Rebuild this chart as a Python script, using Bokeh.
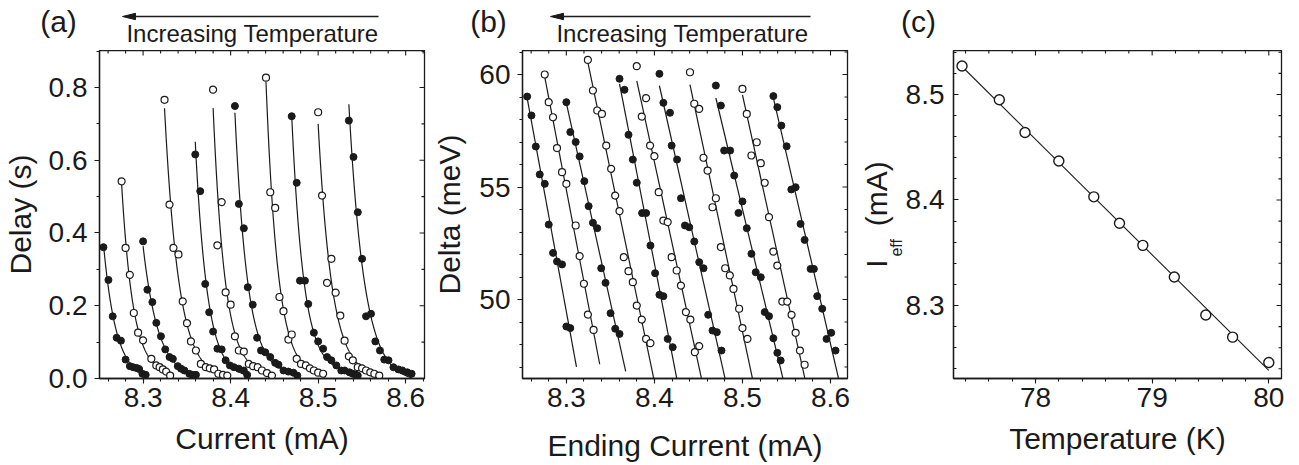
import numpy as np
from bokeh.plotting import figure
from bokeh.layouts import row, column
from bokeh.models import (Range1d, LinearAxis, SingleIntervalTicker, FixedTicker,
                          PrintfTickFormatter)
from bokeh.core.properties import value
from bokeh.embed import file_html
from bokeh.resources import INLINE

FONT = "Liberation Sans"
INK = "#1a1a1a"
NBSP = "\u00a0"

# ---------------- panel (a): delay vs current ----------------
a1_current = [8.2547, 8.2604, 8.2653, 8.2698, 8.2747, 8.2800, 8.2849, 8.2887, 8.2925, 8.2955, 8.2992, 8.3030]
a1_delay = [0.361, 0.271, 0.171, 0.112, 0.104, 0.052, 0.034, 0.031, 0.029, 0.026, 0.013, 0.010]
a2_current = [8.2755, 8.2800, 8.2849, 8.2894, 8.2943, 8.3000, 8.3094, 8.3151, 8.3189, 8.3226, 8.3264, 8.3309]
a2_delay = [0.542, 0.359, 0.285, 0.180, 0.126, 0.105, 0.054, 0.036, 0.031, 0.025, 0.019, 0.008]
a3_current = [8.3000, 8.3049, 8.3106, 8.3151, 8.3204, 8.3253, 8.3302, 8.3340, 8.3396, 8.3434, 8.3472, 8.3528, 8.3566, 8.3604]
a3_delay = [0.377, 0.244, 0.210, 0.153, 0.116, 0.080, 0.059, 0.054, 0.034, 0.027, 0.022, 0.013, 0.010, 0.010]
a4_current = [8.3245, 8.3302, 8.3347, 8.3404, 8.3453, 8.3502, 8.3547, 8.3604, 8.3660, 8.3717, 8.3762, 8.3811, 8.3860, 8.3913, 8.3962]
a4_delay = [0.766, 0.478, 0.359, 0.341, 0.212, 0.152, 0.102, 0.077, 0.040, 0.031, 0.028, 0.025, 0.013, 0.010, 0.008]
a5_current = [8.3596, 8.3653, 8.3710, 8.3755, 8.3800, 8.3849, 8.3898, 8.3943, 8.3992, 8.4038, 8.4094, 8.4151, 8.4189]
a5_delay = [0.616, 0.515, 0.260, 0.182, 0.129, 0.082, 0.080, 0.050, 0.036, 0.031, 0.027, 0.022, 0.010]
a6_current = [8.3800, 8.3849, 8.3898, 8.3943, 8.4000, 8.4049, 8.4094, 8.4151, 8.4208, 8.4257, 8.4309, 8.4358, 8.4415, 8.4472]
a6_delay = [0.794, 0.366, 0.485, 0.237, 0.203, 0.116, 0.077, 0.074, 0.040, 0.034, 0.031, 0.022, 0.015, 0.008]
a7_current = [8.4049, 8.4094, 8.4151, 8.4196, 8.4253, 8.4302, 8.4347, 8.4396, 8.4453, 8.4509, 8.4547, 8.4604, 8.4660, 8.4717, 8.4762]
a7_delay = [0.749, 0.480, 0.413, 0.251, 0.203, 0.112, 0.077, 0.072, 0.059, 0.043, 0.038, 0.022, 0.019, 0.016, 0.008]
a8_current = [8.4404, 8.4453, 8.4509, 8.4558, 8.4604, 8.4660, 8.4698, 8.4755, 8.4804, 8.4860, 8.4906, 8.4951, 8.5000, 8.5057]
a8_delay = [0.827, 0.512, 0.469, 0.224, 0.185, 0.107, 0.121, 0.054, 0.040, 0.036, 0.028, 0.022, 0.016, 0.013]
a9_current = [8.4698, 8.4755, 8.4792, 8.4849, 8.4887, 8.4951, 8.5000, 8.5057, 8.5102, 8.5151, 8.5208, 8.5264, 8.5302, 8.5358, 8.5396, 8.5434, 8.5453]
a9_delay = [0.721, 0.538, 0.269, 0.269, 0.205, 0.126, 0.102, 0.082, 0.059, 0.050, 0.036, 0.022, 0.022, 0.017, 0.013, 0.010, 0.008]
a10_current = [8.5000, 8.5045, 8.5102, 8.5151, 8.5200, 8.5253, 8.5302, 8.5351, 8.5396, 8.5453, 8.5502, 8.5547, 8.5596, 8.5642, 8.5698]
a10_delay = [0.732, 0.503, 0.263, 0.329, 0.236, 0.173, 0.104, 0.061, 0.050, 0.031, 0.028, 0.022, 0.017, 0.013, 0.008]
a11_current = [8.5351, 8.5404, 8.5453, 8.5502, 8.5547, 8.5604, 8.5653, 8.5706, 8.5755, 8.5804, 8.5860, 8.5917, 8.5962, 8.6019, 8.6068]
a11_delay = [0.709, 0.609, 0.457, 0.329, 0.171, 0.178, 0.102, 0.077, 0.052, 0.050, 0.031, 0.025, 0.022, 0.017, 0.013]

# ---------------- panel (b): delta vs ending current ----------------
b1_current = [8.2555, 8.2604, 8.2653, 8.2698, 8.2755, 8.2800, 8.2849, 8.2894, 8.2951, 8.3000, 8.3045]
b1_delta = [59.02, 58.18, 56.80, 55.56, 55.14, 53.33, 52.07, 51.69, 51.56, 48.80, 48.73]
b2_current = [8.2755, 8.2800, 8.2849, 8.2894, 8.2951, 8.3000, 8.3106, 8.3151, 8.3200, 8.3245, 8.3309]
b2_delta = [60.00, 58.77, 58.10, 56.73, 55.66, 55.14, 53.29, 51.93, 50.70, 49.33, 48.65]
b3_current = [8.3000, 8.3045, 8.3106, 8.3151, 8.3204, 8.3253, 8.3302, 8.3351, 8.3396, 8.3445, 8.3502, 8.3555, 8.3604]
b3_delta = [58.77, 57.44, 57.00, 56.36, 55.26, 54.15, 53.41, 53.17, 51.39, 50.74, 49.39, 48.70, 48.47]
b4_current = [8.3245, 8.3302, 8.3351, 8.3404, 8.3453, 8.3509, 8.3555, 8.3604, 8.3653, 8.3706, 8.3755, 8.3800, 8.3857, 8.3906, 8.3955]
b4_delta = [60.65, 59.29, 58.40, 58.25, 56.84, 55.81, 54.62, 53.93, 51.88, 51.26, 50.77, 49.73, 49.11, 48.25, 48.06]
b5_current = [8.3604, 8.3660, 8.3706, 8.3755, 8.3800, 8.3860, 8.3906, 8.3955, 8.4008, 8.4057, 8.4102, 8.4151, 8.4208]
b5_delta = [59.81, 59.32, 57.32, 56.22, 55.19, 53.84, 53.84, 52.40, 51.17, 50.21, 50.15, 48.25, 47.88]
b6_current = [8.3800, 8.3857, 8.3906, 8.3951, 8.4000, 8.4049, 8.4102, 8.4151, 8.4196, 8.4253, 8.4302, 8.4358, 8.4408, 8.4460, 8.4509]
b6_delta = [60.37, 58.13, 58.95, 56.84, 56.37, 54.77, 53.51, 53.44, 51.88, 51.29, 50.62, 49.44, 49.11, 47.66, 47.93]
b7_current = [8.4057, 8.4102, 8.4177, 8.4196, 8.4257, 8.4302, 8.4347, 8.4396, 8.4453, 8.4509, 8.4558, 8.4611, 8.4660, 8.4709, 8.4762]
b7_delta = [60.03, 58.74, 58.30, 56.84, 56.22, 54.50, 53.29, 53.21, 52.58, 51.66, 51.39, 49.32, 48.62, 48.55, 47.73]
b8_current = [8.4404, 8.4453, 8.4509, 8.4558, 8.4604, 8.4660, 8.4698, 8.4755, 8.4804, 8.4857, 8.4898, 8.4962, 8.5000, 8.5057]
b8_delta = [60.10, 58.70, 58.47, 56.30, 55.73, 54.10, 54.50, 52.33, 51.39, 51.07, 50.47, 49.59, 48.73, 48.25]
b9_current = [8.4698, 8.4755, 8.4792, 8.4860, 8.4906, 8.4955, 8.5000, 8.5049, 8.5102, 8.5151, 8.5208, 8.5253, 8.5302, 8.5351, 8.5396, 8.5434]
b9_delta = [59.51, 58.62, 56.62, 56.62, 55.51, 53.85, 54.36, 53.17, 52.03, 51.21, 50.99, 49.44, 49.26, 48.28, 47.63, 47.29]
b10_current = [8.5000, 8.5049, 8.5102, 8.5162, 8.5208, 8.5253, 8.5302, 8.5351, 8.5396, 8.5453, 8.5509, 8.5558, 8.5604, 8.5653, 8.5706]
b10_delta = [59.36, 58.25, 56.40, 56.99, 56.06, 55.19, 53.66, 52.13, 51.51, 49.91, 49.91, 49.32, 48.52, 47.73, 47.10]
b11_current = [8.5351, 8.5396, 8.5442, 8.5502, 8.5555, 8.5604, 8.5660, 8.5706, 8.5774, 8.5811, 8.5849, 8.5906, 8.5955, 8.6008, 8.6057]
b11_delta = [59.04, 58.55, 57.73, 56.81, 54.89, 54.99, 53.36, 52.65, 51.36, 51.36, 50.15, 49.59, 48.25, 48.52, 47.73]

# ---------------- panel (c): I_eff vs temperature ----------------
c_temperature = [77.37, 77.69, 77.91, 78.20, 78.50, 78.72, 78.92, 79.19, 79.46, 79.69, 80.00]
c_ieff = [8.527, 8.495, 8.464, 8.437, 8.403, 8.378, 8.357, 8.327, 8.291, 8.270, 8.246]

series_filled = [True, False, True, False, True, False, True, False, True, False, True]

panel_a = [(a1_current, a1_delay), (a2_current, a2_delay), (a3_current, a3_delay),
           (a4_current, a4_delay), (a5_current, a5_delay), (a6_current, a6_delay),
           (a7_current, a7_delay), (a8_current, a8_delay), (a9_current, a9_delay),
           (a10_current, a10_delay), (a11_current, a11_delay)]
panel_b = [(b1_current, b1_delta), (b2_current, b2_delta), (b3_current, b3_delta),
           (b4_current, b4_delta), (b5_current, b5_delta), (b6_current, b6_delta),
           (b7_current, b7_delta), (b8_current, b8_delta), (b9_current, b9_delta),
           (b10_current, b10_delta), (b11_current, b11_delta)]

# ---------------- layout geometry (page pixels) ----------------
PAGE_W = 1290
HEADER_H = 50
FRAME_H = 328
BOTTOM = 86
MAIN_H = FRAME_H + BOTTOM
# frame: (left page x, width, xrange, yrange)
FRAME_A = (96, 328, (8.2502, 8.6215), (0.0, 0.9017))
FRAME_B = (521, 326, (8.2502, 8.6193), (46.489, 61.067))
FRAME_C = (953, 328, (77.297, 80.109), (8.2308, 8.5417))
FIG_A_X, FIG_B_X, FIG_C_X = 0, 430, 852


def make_fig(frame, fig_x, fig_w):
    left, w, xr, yr = frame
    bl = left - fig_x
    p = figure(width=fig_w, height=MAIN_H, x_range=Range1d(*xr), y_range=Range1d(*yr),
               x_axis_type=None, y_axis_type=None, toolbar_location=None,
               output_backend="svg", title=None,
               min_border_left=bl, min_border_right=fig_w - bl - w,
               min_border_top=0, min_border_bottom=BOTTOM)
    p.grid.visible = False
    p.outline_line_color = INK
    p.outline_line_width = 1.3
    p.background_fill_color = "white"
    p.border_fill_color = "white"
    return p


def common_axis(ax):
    ax.axis_line_color = INK
    ax.axis_line_width = 1.3
    ax.major_tick_line_color = INK
    ax.minor_tick_line_color = INK
    ax.major_tick_line_width = 1.1
    ax.minor_tick_line_width = 1.1
    ax.major_label_text_font = FONT
    ax.major_label_text_font_size = "28px"
    ax.major_label_text_color = INK
    ax.axis_label_text_font = FONT
    ax.axis_label_text_font_size = "30px"
    ax.axis_label_text_font_style = "normal"
    ax.axis_label_text_color = INK


def tick_values(lo, hi, step, nminor):
    ms = step / nminor
    k0 = int(np.ceil(lo / ms - 1e-6))
    k1 = int(np.floor(hi / ms + 1e-6))
    ks = np.arange(k0, k1 + 1)
    return ks * ms, (ks % nminor) == 0


def inward_ticks(p, frame, xstep, xminor, ystep, yminor):
    left, w, (x0, x1), (y0, y1) = frame
    px_x = (x1 - x0) / w
    px_y = (y1 - y0) / FRAME_H
    xv, xmaj = tick_values(x0, x1, xstep, xminor)
    lx = np.where(xmaj, 5.0, 3.0) * px_y
    p.segment(x0=xv, y0=np.full(len(xv), y1), x1=xv, y1=y1 - lx, line_color=INK, line_width=1.1)
    yv, ymaj = tick_values(y0, y1, ystep, yminor)
    ly = np.where(ymaj, 5.0, 3.0) * px_x
    p.segment(x0=np.full(len(yv), x1), y0=yv, x1=x1 - ly, y1=yv, line_color=INK, line_width=1.1)


def setup_axes(p, frame, xstep, xminor, ystep, yminor, xfmt, yfmt, xlabel, ylabel, xls, yls,
               left_inward=False):
    xa = LinearAxis(ticker=SingleIntervalTicker(interval=xstep, num_minor_ticks=xminor),
                    formatter=PrintfTickFormatter(format=xfmt), axis_label=xlabel)
    common_axis(xa)
    xa.major_tick_out, xa.major_tick_in = 5, 0
    xa.minor_tick_out, xa.minor_tick_in = 3, 0
    xa.major_label_standoff = 4
    xa.axis_label_standoff = xls
    p.add_layout(xa, "below")

    ya = LinearAxis(ticker=SingleIntervalTicker(interval=ystep, num_minor_ticks=yminor),
                    formatter=PrintfTickFormatter(format=yfmt), axis_label=ylabel)
    common_axis(ya)
    if left_inward:
        ya.major_tick_out, ya.major_tick_in = 0, 5
        ya.minor_tick_out, ya.minor_tick_in = 0, 3
        ya.major_label_standoff = 9
    else:
        ya.major_tick_out, ya.major_tick_in = 5, 0
        ya.minor_tick_out, ya.minor_tick_in = 3, 0
        ya.major_label_standoff = 7
    ya.axis_label_standoff = yls
    p.add_layout(ya, "left")
    inward_ticks(p, frame, xstep, xminor, ystep, yminor)


def label_only_axis(p, text, size, standoff):
    # an axis that carries only a title (no ticks, no tick labels, no line)
    ax = LinearAxis(ticker=FixedTicker(ticks=[]), axis_label=text)
    common_axis(ax)
    ax.axis_line_color = None
    ax.major_tick_line_color = None
    ax.minor_tick_line_color = None
    ax.major_tick_out = ax.major_tick_in = 0
    ax.minor_tick_out = ax.minor_tick_in = 0
    ax.major_label_standoff = 0
    ax.axis_label_text_font_size = size
    ax.axis_label_standoff = standoff
    p.add_layout(ax, "left")


def exp_fit_line(x, y):
    x = np.asarray(x, float)
    y = np.asarray(y, float)
    order = np.argsort(x)
    x, y = x[order], y[order]
    best = None
    for k in np.linspace(5, 700, 1400):
        M = np.column_stack([np.exp(-k * (x - x[0])), np.ones_like(x)])
        coef, *_ = np.linalg.lstsq(M, y, rcond=None)
        r = float(np.sum((M @ coef - y) ** 2))
        if best is None or r < best[0]:
            best = (r, k, coef)
    _, k, (A, c) = best
    xs = np.linspace(x[0], x[-1], 200)
    return xs, A * np.exp(-k * (xs - x[0])) + c


def scatter(p, x, y, filled, size=7):
    if filled:
        p.scatter(x, y, marker="circle", size=size, fill_color=INK, line_color=INK, line_width=1)
    else:
        p.scatter(x, y, marker="circle", size=size, fill_color="white", line_color=INK, line_width=1.2)


def blank_fig(width, height, xr, yr):
    f = figure(width=width, height=height, x_range=Range1d(*xr), y_range=Range1d(*yr),
               x_axis_type=None, y_axis_type=None, toolbar_location=None,
               output_backend="svg", title=None,
               min_border_left=0, min_border_right=0, min_border_top=0, min_border_bottom=0)
    f.grid.visible = False
    f.outline_line_color = None
    f.background_fill_color = "white"
    f.border_fill_color = "white"
    return f


def put_text(f, xs, ys, texts, size):
    f.text(x=xs, y=ys, text=texts,
           text_font=value(FONT), text_font_size=value(size), text_color=INK,
           text_align=value("center"), text_baseline=value("middle"))


# ---------------- header: panel letters and temperature arrows ----------------
head = blank_fig(PAGE_W, HEADER_H, (0, PAGE_W), (HEADER_H, 0))
put_text(head, [58, 488, 918], [21, 21, 21], ["(a)", "(b)", "(c)"], "30px")
arrow_tips = [122, 550]
arrow_tails = [378, 810]
arrow_y = 16
put_text(head, [(t + e) / 2 + 2 for t, e in zip(arrow_tips, arrow_tails)], [33, 33],
         ["Increasing Temperature", "Increasing Temperature"], "24px")
HEAD_LEN, HEAD_HALF = 13, 3.2
head.segment(x0=[t + HEAD_LEN - 1 for t in arrow_tips], y0=[arrow_y] * 2,
             x1=arrow_tails, y1=[arrow_y] * 2, line_color=INK, line_width=1.3)
head.patches(xs=[[t, t + HEAD_LEN, t + HEAD_LEN] for t in arrow_tips],
             ys=[[arrow_y, arrow_y - HEAD_HALF, arrow_y + HEAD_HALF]] * 2,
             fill_color=INK, line_color=INK, line_width=1)

# ---------------- panel (a) ----------------
pa = make_fig(FRAME_A, FIG_A_X, FIG_B_X - FIG_A_X)
setup_axes(pa, FRAME_A, 0.1, 5, 0.2, 2, "%.1f", "%.1f", "Current (mA)", "Delay (s)", 12, 9)
for (cur, dl), filled in zip(panel_a, series_filled):
    lx, ly = exp_fit_line(cur, dl)
    pa.line(lx, ly, line_color=INK, line_width=1.2)
    scatter(pa, cur, dl, filled)

# ---------------- panel (b) ----------------
pb = make_fig(FRAME_B, FIG_B_X, FIG_C_X - FIG_B_X)
setup_axes(pb, FRAME_B, 0.1, 5, 5, 5, "%.1f", "%d", "Ending Current (mA)", "Delta (meV)", 19, 10)
for (cur, de), filled in zip(panel_b, series_filled):
    slope, icpt = np.polyfit(cur, de, 1)
    lx = np.array([min(cur), max(cur) + 0.007])
    pb.line(lx, slope * lx + icpt, line_color=INK, line_width=1.2)
    scatter(pb, cur, de, filled)

# ---------------- panel (c) ----------------
pc = make_fig(FRAME_C, FIG_C_X, PAGE_W - FIG_C_X)
setup_axes(pc, FRAME_C, 1, 5, 0.1, 5, "%d", "%.1f", "Temperature (K)", None, 12, 0, left_inward=True)
# y title "I_eff (mA)": subscript as an inner title, main text as an outer title
label_only_axis(pc, "eff" + NBSP * 15, "16px", -2)
label_only_axis(pc, "I" + NBSP * 4 + "(mA)", "30px", -8)
slope_c, icpt_c = np.polyfit(c_temperature, c_ieff, 1)
tl = np.array([min(c_temperature), max(c_temperature)])
pc.line(tl, slope_c * tl + icpt_c, line_color=INK, line_width=1.1)
pc.scatter(c_temperature, c_ieff, marker="circle", size=10, fill_color="white",
           line_color=INK, line_width=1.4)

layout = column(head, row(pa, pb, pc))
open("out.html", "w").write(file_html(layout, INLINE))
